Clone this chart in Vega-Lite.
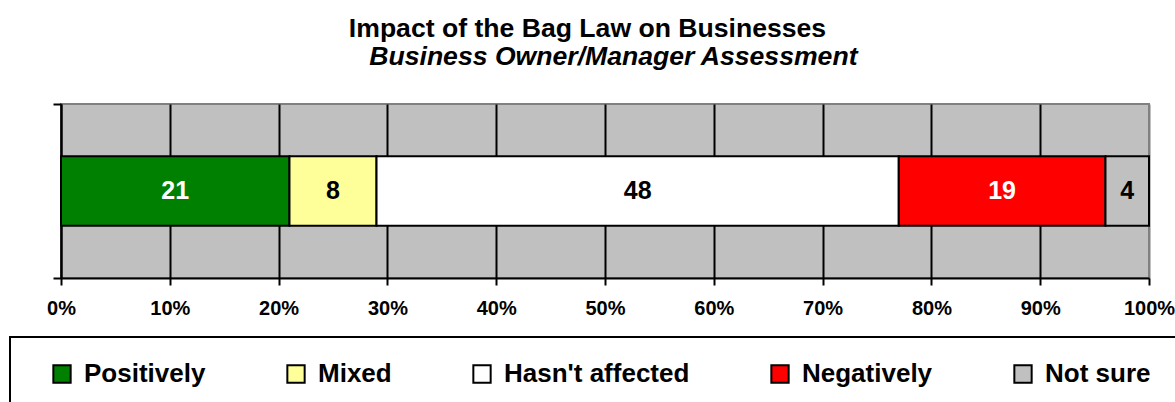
{
  "$schema": "https://vega.github.io/schema/vega-lite/v6.json",
  "width": 1088,
  "height": 174,
  "autosize": {"type": "none"},
  "padding": {"left": 61, "top": 104, "right": 26, "bottom": 124},
  "background": "white",
  "title": {
    "text": "Impact of the Bag Law on Businesses",
    "subtitle": "\u200b\u00a0\u00a0\u00a0\u00a0\u00a0\u00a0\u00a0Business Owner/Manager Assessment",
    "anchor": "middle",
    "dx": -17.5,
    "offset": 32,
    "font": "Liberation Sans",
    "fontSize": 26.6,
    "fontWeight": "bold",
    "color": "black",
    "subtitleFont": "Liberation Sans",
    "subtitleFontSize": 26.6,
    "subtitleFontStyle": "italic",
    "subtitleFontWeight": "bold",
    "subtitleColor": "black",
    "subtitlePadding": 2
  },
  "data": {
    "values": [
      {"group": "Impact", "category": "Positively", "value": 21, "rank": 1},
      {"group": "Impact", "category": "Mixed", "value": 8, "rank": 2},
      {"group": "Impact", "category": "Hasn't affected", "value": 48, "rank": 3},
      {"group": "Impact", "category": "Negatively", "value": 19, "rank": 4},
      {"group": "Impact", "category": "Not sure", "value": 4, "rank": 5}
    ]
  },
  "transform": [
    {"stack": "value", "groupby": ["group"], "sort": [{"field": "rank", "order": "ascending"}], "offset": "normalize", "as": ["x0", "x1"]}
  ],
  "layer": [
    {
      "mark": {"type": "bar", "stroke": "black", "strokeWidth": 2, "height": {"band": 0.4}, "opacity": 1},
      "encoding": {
        "x": {
          "field": "x0",
          "type": "quantitative",
          "scale": {"domain": [0, 1], "nice": false, "zero": true},
          "axis": {
            "values": [0, 0.1, 0.2, 0.3, 0.4, 0.5, 0.6, 0.7, 0.8, 0.9, 1],
            "format": ".0%",
            "title": null,
            "grid": true,
            "gridColor": {"condition": {"test": "datum.value === 1", "value": "#808080"}, "value": "black"},
            "gridWidth": 2,
            "gridOpacity": 1,
            "domainColor": "black",
            "domainWidth": 2,
            "tickColor": "black",
            "tickWidth": 2,
            "tickSize": 7,
            "labelFont": "Liberation Sans",
            "labelFontSize": 20,
            "labelFontWeight": "bold",
            "labelColor": "black",
            "labelPadding": 13,
            "labelFlush": false,
            "labelOverlap": false
          }
        },
        "x2": {"field": "x1"},
        "y": {
          "field": "group",
          "type": "nominal",
          "scale": {"paddingInner": 0, "paddingOuter": 0},
          "axis": {
            "title": null,
            "labels": false,
            "ticks": true,
            "tickBand": "extent",
            "tickSize": 8,
            "tickColor": "black",
            "tickWidth": 2,
            "domainColor": "black",
            "domainWidth": 2,
            "grid": false
          }
        },
        "color": {
          "field": "category",
          "type": "nominal",
          "scale": {
            "domain": ["Positively", "Mixed", "Hasn't affected", "Negatively", "Not sure"],
            "range": ["#008000", "#FFFF99", "#FFFFFF", "#FF0000", "#C0C0C0"]
          },
          "legend": {
            "orient": "none",
            "legendX": -51,
            "legendY": 233,
            "direction": "horizontal",
            "columns": 5,
            "title": " ",
            "titleOrient": "left",
            "titleFontSize": 26,
            "titlePadding": 15,
            "strokeColor": "black",
            "padding": 24,
            "columnPadding": 77,
            "symbolType": "square",
            "symbolSize": 300,
            "symbolStrokeColor": "black",
            "symbolStrokeWidth": 2,
            "symbolOpacity": 1,
            "labelFont": "Liberation Sans",
            "labelFontSize": 26,
            "labelFontWeight": "bold",
            "labelColor": "black",
            "labelOffset": 9,
            "labelLimit": 500,
            "labelExpr": "datum.label === 'Not sure' ? 'Not sure\u00a0\u00a0\u200b' : datum.label"
          }
        }
      }
    },
    {
      "transform": [
        {"fold": ["x0", "x1"], "as": ["edge", "pos"]},
        {"aggregate": [{"op": "mean", "field": "pos", "as": "mid"}], "groupby": ["group", "category", "value"]}
      ],
      "mark": {"type": "text", "font": "Liberation Sans", "fontSize": 25, "fontWeight": "bold", "baseline": "middle", "align": "center"},
      "encoding": {
        "x": {"field": "mid", "type": "quantitative"},
        "y": {"field": "group", "type": "nominal"},
        "text": {"field": "value", "type": "quantitative"},
        "color": {
          "condition": {"test": "datum.category === 'Positively' || datum.category === 'Negatively'", "value": "white"},
          "value": "black"
        }
      }
    }
  ],
  "config": {
    "font": "Liberation Sans",
    "view": {"fill": "#C0C0C0", "stroke": "#808080", "strokeWidth": 2},
    "legend": {"strokeWidth": 2}
  }
}
